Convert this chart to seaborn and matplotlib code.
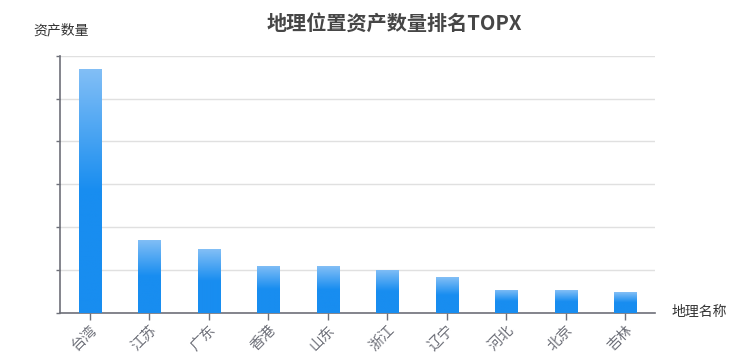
import numpy as np
import pandas as pd
import seaborn as sns
import matplotlib.pyplot as plt
from matplotlib.colors import LinearSegmentedColormap

# data
regions = ["台湾", "江苏", "广东", "香港", "山东", "浙江", "辽宁", "河北", "北京", "吉林"]
asset_counts = [570, 171, 149, 110, 109, 101, 83, 54, 53, 48]

df = pd.DataFrame({"region": regions, "count": asset_counts})

sns.set_theme(style="white")
plt.rcParams["font.family"] = ["Noto Sans CJK SC", "DejaVu Sans"]

fig = plt.figure(figsize=(7.56, 3.57), dpi=100)
ax = fig.add_axes([0.0794, 0.1232, 0.7870, 0.7208])

ax = sns.barplot(data=df, x="region", y="count", color="#188df0",
                 width=0.37, ax=ax, zorder=3)

# vertical gradient on each bar: light at top, solid from the middle down
cmap = LinearSegmentedColormap.from_list(
    "bar", [(0, "#188df0"), (0.5, "#188df0"), (1, "#83bff6")])
grad = np.linspace(0, 1, 256).reshape(-1, 1)
for p in ax.patches:
    x0, y0 = p.get_x(), p.get_y()
    w, h = p.get_width(), p.get_height()
    img = ax.imshow(grad, cmap=cmap, aspect="auto", origin="lower",
                    extent=[x0, x0 + w, y0, y0 + h], zorder=3)
    img.set_clip_path(p)
    p.set_facecolor("none")
    p.set_edgecolor("#a9d3fa")
    p.set_linewidth(0.6)

ax.set_xlim(-0.5, len(regions) - 0.5)
ax.set_ylim(0, 600)
ax.set_yticks(np.arange(0, 601, 100))
ax.set_yticklabels([])
ax.yaxis.grid(True, color="#e0e0e0", linewidth=1, zorder=0)
ax.set_axisbelow(True)

for side in ["top", "right"]:
    ax.spines[side].set_visible(False)
for side in ["left", "bottom"]:
    ax.spines[side].set_color("#6e7079")
    ax.spines[side].set_linewidth(1.2)

ax.tick_params(axis="x", length=5, width=1, color="#6e7079", bottom=True,
               labelsize=10.5, labelcolor="#6e7079", pad=2)
ax.tick_params(axis="y", length=3, width=1, color="#6e7079", left=True)
plt.setp(ax.get_xticklabels(), rotation=45, ha="right", rotation_mode="anchor")

ax.set_xlabel("")
ax.set_ylabel("")

fig.text(0.5212, 0.934, "地理位置资产数量排名TOPX", ha="center", va="center",
         fontsize=14.5, fontweight="bold", color="#464646")
fig.text(0.0437, 0.916, "资产数量", ha="left", va="center",
         fontsize=10, color="#333333")
fig.text(0.8889, 0.126, "地理名称", ha="left", va="center",
         fontsize=10, color="#333333")

fig.savefig("out.png", dpi=100)
